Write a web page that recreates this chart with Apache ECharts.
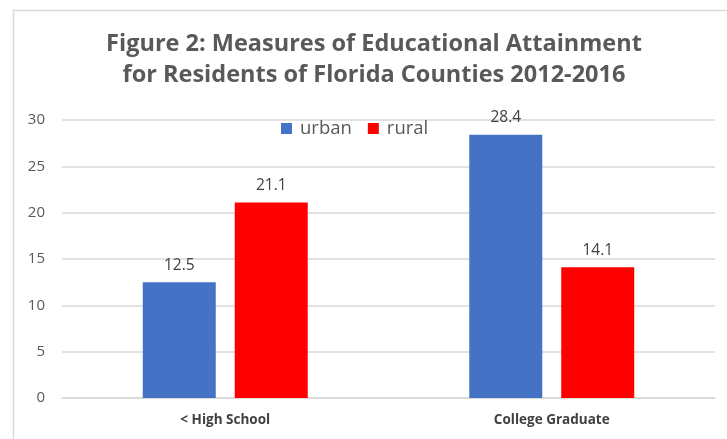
<!DOCTYPE html>
<html><head><meta charset="utf-8">
<script src="https://cdn.jsdelivr.net/npm/echarts@6/dist/echarts.min.js"></script>
<style>html,body{margin:0;padding:0;background:#fff}#c{width:727px;height:439px}</style>
</head><body><div id="c"></div>
<script>
const categories = ['< High School', 'College Graduate'];
const urban = [12.5, 28.4];
const rural = [21.1, 14.1];
const yTicks = [0, 5, 10, 15, 20, 25, 30];

const chart = echarts.init(document.getElementById('c'));
chart.setOption({
  animation: false,
  backgroundColor: '#fff',
  graphic: [{
    type: 'rect', shape: {x: 13.5, y: 10.5, width: 800, height: 600},
    style: {fill: 'none', stroke: '#d9d9d9', lineWidth: 1.5}, silent: true
  }],
  title: {
    text: 'Figure 2: Measures of Educational Attainment\nfor Residents of Florida Counties 2012-2016',
    left: 369, top: 24, textAlign: 'center',
    textStyle: {fontFamily: 'Open Sans', fontWeight: 'bold', fontSize: 23.5, color: '#595959', lineHeight: 31}
  },
  legend: {
    data: ['urban', 'rural'], left: 276, top: 114, itemWidth: 11, itemHeight: 11, itemGap: 16,
    icon: 'rect',
    textStyle: {fontFamily: 'Open Sans', fontSize: 18.5, color: '#595959', padding: [0, 0, 0, 3]}
  },
  grid: {left: 62, right: 12, top: 120, bottom: 41},
  xAxis: {
    type: 'category', data: categories,
    axisLine: {lineStyle: {color: '#d9d9d9', width: 1.5}},
    axisTick: {show: false},
    axisLabel: {fontFamily: 'Open Sans', fontWeight: 'bold', fontSize: 13.5, color: '#404040', margin: 15}
  },
  yAxis: {
    type: 'value', min: 0, max: 30, interval: 5,
    axisLine: {show: false}, axisTick: {show: false},
    splitLine: {lineStyle: {color: '#d9d9d9', width: 1.5}},
    axisLabel: {fontFamily: 'Open Sans', fontSize: 15, color: '#595959', margin: 17,
      formatter: v => yTicks.includes(v) ? String(v) : ''}
  },
  series: [
    {name: 'urban', type: 'bar', data: urban, barWidth: 73, barGap: '26%',
     itemStyle: {color: '#4472c4'},
     label: {show: true, position: 'top', distance: 9, fontFamily: 'Open Sans', fontSize: 15.5, color: '#404040'}},
    {name: 'rural', type: 'bar', data: rural, barWidth: 73,
     itemStyle: {color: '#ff0000'},
     label: {show: true, position: 'top', distance: 9, fontFamily: 'Open Sans', fontSize: 15.5, color: '#404040'}}
  ]
});
</script></body></html>
